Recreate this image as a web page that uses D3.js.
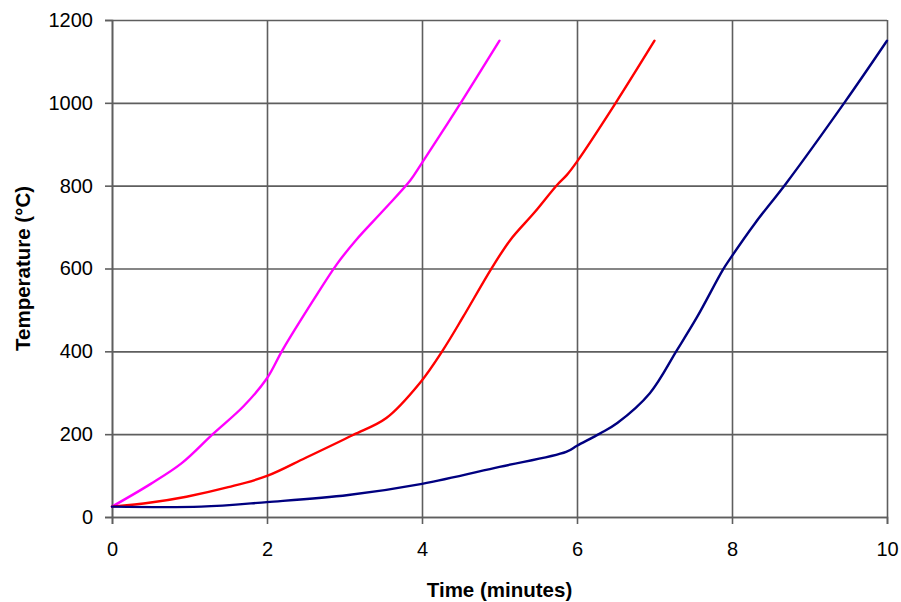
<!DOCTYPE html>
<html>
<head>
<meta charset="utf-8">
<script src="https://cdn.jsdelivr.net/npm/d3@7"></script>
<style>
  html, body { margin: 0; padding: 0; background: #fff; }
  svg { display: block; }
  text { font-family: "Liberation Sans", Arial, sans-serif; fill: #000; }
</style>
</head>
<body>
<svg id="chart" width="901" height="602"></svg>
<script>
// ---- data ----
const xTicks = [0, 2, 4, 6, 8, 10];
const yTicks = [0, 200, 400, 600, 800, 1000, 1200];

const magentaTime = [0, 0.5, 0.9, 1.3, 1.7, 2.0, 2.2, 2.6, 2.9, 3.15, 3.5, 3.85, 4.0, 4.5, 5.0];
const magentaTemp = [25, 80, 130, 200, 268, 335, 403, 524, 610, 669, 740, 813, 855, 1000, 1150];

const redTime = [0, 0.5, 0.96, 1.5, 2.0, 2.5, 3.11, 3.54, 3.97, 4.27, 4.53, 4.9, 5.14, 5.45, 5.74, 5.87, 6.0, 6.5, 7.0];
const redTemp = [25, 35, 49, 72, 99, 143, 198, 239, 323, 403, 483, 601, 669, 735, 801, 826, 858, 1000, 1150];

const blueTime = [0, 1.15, 2.0, 3.05, 4.0, 5.0, 5.86, 6.0, 6.3, 6.52, 6.94, 7.29, 7.55, 7.88, 7.97, 8.3, 8.7, 9.46, 10.0];
const blueTemp = [25, 25, 36, 53, 80, 121, 157, 172, 202, 227, 299, 403, 483, 596, 622, 710, 806, 1003, 1150];

const series = [
  { time: magentaTime, temp: magentaTemp, color: "#ff00ff" },
  { time: redTime, temp: redTemp, color: "#ff0000" },
  { time: blueTime, temp: blueTemp, color: "#000080" }
];

// ---- layout ----
const svg = d3.select("#chart");
const mL = 112, mR = 887, mT = 20, mB = 517;

const x = d3.scaleLinear().domain([0, 10]).range([mL, mR]);
const y = d3.scaleLinear().domain([0, 1200]).range([mB, mT]);

const gridColor = "#5e5e5e";
const gridW = 1.6;

// horizontal grid
svg.append("g")
  .attr("transform", `translate(${mL},0)`)
  .call(d3.axisLeft(y).tickValues(yTicks).tickSize(-(mR - mL)).tickFormat(""))
  .call(g => g.select(".domain").remove())
  .call(g => g.selectAll("line").attr("stroke", gridColor).attr("stroke-width", gridW));

// vertical grid
svg.append("g")
  .attr("transform", `translate(0,${mB})`)
  .call(d3.axisBottom(x).tickValues(xTicks).tickSize(-(mB - mT)).tickFormat(""))
  .call(g => g.select(".domain").remove())
  .call(g => g.selectAll("line").attr("stroke", gridColor).attr("stroke-width", gridW));

// y axis with outside ticks
svg.append("g")
  .attr("transform", `translate(${mL},0)`)
  .call(d3.axisLeft(y).tickValues(yTicks).tickSize(7).tickPadding(12).tickFormat(d3.format("d")))
  .call(g => g.select(".domain").attr("stroke", gridColor).attr("stroke-width", gridW))
  .call(g => g.selectAll("line").attr("stroke", gridColor).attr("stroke-width", gridW))
  .call(g => g.selectAll("text").attr("font-size", 20).attr("font-family", "Liberation Sans, Arial, sans-serif").attr("fill", "#000"));

// x axis with outside ticks
svg.append("g")
  .attr("transform", `translate(0,${mB})`)
  .call(d3.axisBottom(x).tickValues(xTicks).tickSize(7).tickPadding(18).tickFormat(d3.format("d")))
  .call(g => g.select(".domain").attr("stroke", gridColor).attr("stroke-width", gridW))
  .call(g => g.selectAll("line").attr("stroke", gridColor).attr("stroke-width", gridW))
  .call(g => g.selectAll("text").attr("font-size", 20).attr("font-family", "Liberation Sans, Arial, sans-serif").attr("fill", "#000"));

// lines
const line = d3.line()
  .x(d => x(d[0]))
  .y(d => y(d[1]))
  .curve(d3.curveCatmullRom.alpha(0.5));

series.forEach(s => {
  const pts = s.time.map((t, i) => [t, s.temp[i]]);
  svg.append("path")
    .datum(pts)
    .attr("fill", "none")
    .attr("stroke", s.color)
    .attr("stroke-width", 2.4)
    .attr("stroke-linejoin", "round")
    .attr("stroke-linecap", "round")
    .attr("d", line);
});

// axis titles
svg.append("text")
  .attr("x", (mL + mR) / 2)
  .attr("y", 597)
  .attr("text-anchor", "middle")
  .attr("font-size", 20.5)
  .attr("font-weight", "bold")
  .text("Time (minutes)");

svg.append("text")
  .attr("transform", `translate(30,${(mT + mB) / 2}) rotate(-90)`)
  .attr("text-anchor", "middle")
  .attr("font-size", 20.5)
  .attr("font-weight", "bold")
  .text("Temperature (°C)");
</script>
</body>
</html>
